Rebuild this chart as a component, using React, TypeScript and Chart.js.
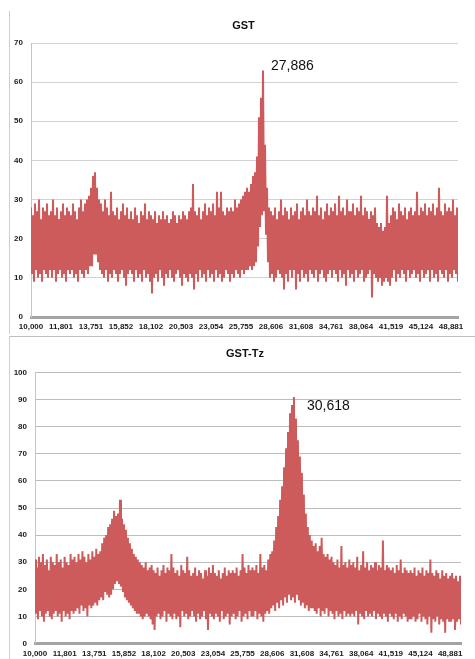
import React, { useEffect, useRef } from 'react';
import { Chart, registerables } from 'chart.js';

Chart.register(...registerables);

// ---------- data ----------
const xTickLabels = [
  '10,000', '11,801', '13,751', '15,852', '18,102', '20,503', '23,054', '25,755',
  '28,606', '31,608', '34,761', '38,064', '41,519', '45,124', '48,881',
];
const pointsPerTickLabel = 30;

const gstTitle = 'GST';
const gstPeakLabel = '27,886';
// upper / lower envelope of the noisy trace, read every ~2 px across the plot
const gstUpper = [
  28, 26, 29, 27, 30, 25, 28, 27, 29, 26,
  27, 30, 26, 28, 25, 27, 29, 26, 28, 27,
  26, 29, 27, 25, 28, 30, 27, 29, 30, 31,
  33, 36, 37, 33, 30, 29, 27, 30, 28, 26,
  32, 27, 26, 28, 25, 27, 29, 26, 28, 25,
  27, 25, 28, 26, 24, 27, 26, 29, 25, 27,
  26, 25, 27, 24, 26, 25, 27, 25, 26, 24,
  25, 27, 26, 24, 26, 25, 27, 26, 25, 27,
  28, 34, 27, 26, 28, 25, 27, 29, 26, 28,
  27, 29, 26, 32, 28, 32, 27, 26, 28, 27,
  28, 27, 30, 28, 29, 30, 31, 32, 33, 32,
  34, 36, 37, 41, 51, 56, 63, 44, 33, 28,
  27, 26, 28, 25, 27, 30, 26, 28, 27, 25,
  28, 26, 27, 29, 25, 27, 28, 26, 30, 27,
  26, 28, 27, 31, 26, 28, 25, 27, 29, 26,
  28, 27, 29, 26, 31, 27, 28, 26, 30, 27,
  27, 29, 26, 28, 27, 31, 26, 28, 27, 25,
  27, 26, 28, 24, 23, 24, 22, 23, 31, 24,
  26, 28, 27, 25, 29, 27, 26, 28, 25, 27,
  28, 26, 27, 32, 26, 28, 27, 29, 26, 28,
  27, 29, 26, 28, 33, 27, 26, 29, 27, 28,
  27, 30, 26, 28,
];
const gstLower = [
  11, 9, 12, 10, 11, 9, 12, 11, 10, 12,
  10, 12, 9, 11, 12, 10, 11, 9, 12, 11,
  12, 10, 11, 9, 12, 11, 10, 12, 11, 13,
  13, 16, 16, 14, 12, 11, 10, 12, 9, 11,
  10, 12, 11, 9, 11, 12, 10, 8, 11, 12,
  11, 9, 12, 10, 11, 9, 12, 10, 11, 9,
  6, 10, 11, 9, 12, 10, 8, 11, 10, 12,
  10, 9, 11, 12, 10, 8, 11, 10, 9, 11,
  10, 7, 11, 9, 12, 10, 11, 9, 12, 10,
  11, 9, 12, 10, 11, 9, 10, 12, 11, 9,
  11, 10, 12, 11, 10, 12, 11, 12, 12, 13,
  12, 13, 14, 18, 23, 26, 27, 21, 14, 10,
  11, 9, 10, 12, 11, 10, 7, 11, 9, 12,
  10, 12, 7, 11, 9, 12, 10, 11, 9, 12,
  11, 10, 12, 9, 11, 12, 10, 9, 11, 12,
  10, 12, 11, 9, 12, 10, 11, 8, 12, 10,
  11, 9, 12, 10, 11, 12, 9, 10, 11, 12,
  5, 11, 10, 9, 10, 8, 9, 10, 9, 8,
  10, 12, 9, 11, 10, 12, 11, 9, 12, 10,
  11, 12, 10, 11, 9, 12, 10, 11, 12, 9,
  12, 10, 11, 9, 12, 11, 10, 12, 9, 11,
  10, 12, 11, 9,
];

const tzTitle = 'GST-Tz';
const tzPeakLabel = '30,618';
const tzUpper = [
  31, 28, 32, 30, 33, 29, 31, 27, 32, 30,
  29, 33, 30, 31, 28, 32, 30, 29, 33, 31,
  32, 30, 33, 31, 34, 32, 30, 33, 31, 34,
  32, 35, 33, 34, 37, 39, 40, 43, 44, 46,
  49, 47, 48, 53, 46, 44, 42, 39, 37, 35,
  33, 32, 31, 30, 29, 28, 30, 27, 28, 29,
  27, 26, 28, 25, 27, 29, 26, 28, 27, 33,
  28, 26, 27, 25, 29, 27, 26, 32, 27, 25,
  26, 28, 25, 27, 26, 24, 27, 25, 28, 26,
  29, 26, 25, 27, 24, 26, 28, 25, 27, 26,
  27, 26, 28, 25, 27, 33, 28, 26, 29, 27,
  28, 27, 29, 26, 33, 28, 29, 27, 31, 33,
  34, 38, 43, 47, 53, 58, 65, 72, 78, 85,
  88, 91, 83, 75, 69, 63, 55, 48, 43, 40,
  38, 36, 37, 34, 36, 39, 33, 32, 33, 31,
  32, 30, 29, 31, 28, 36, 29, 30, 28, 31,
  29, 30, 28, 32, 27, 29, 34, 28, 30, 27,
  29, 28, 30, 27, 29, 28, 38, 27, 29, 28,
  27, 28, 26, 29, 27, 31, 26, 28, 27, 26,
  27, 26, 28, 25, 27, 26, 28, 25, 27, 26,
  31, 26, 25, 27, 26, 24, 27, 25, 26, 24,
  25, 26, 24, 25, 23, 25,
];
const tzLower = [
  11, 9, 12, 10, 8, 11, 12, 10, 9, 11,
  12, 10, 11, 8, 12, 10, 11, 9, 12, 11,
  12, 13, 11, 14, 12, 13, 10, 14, 13, 14,
  15, 14, 16, 17, 16, 19, 18, 17, 18, 20,
  22, 23, 22, 21, 19, 17, 16, 15, 14, 13,
  12, 11, 11, 10, 9, 10, 11, 10, 9, 7,
  5, 10, 11, 9, 10, 12, 8, 11, 10, 9,
  11, 9, 10, 6, 12, 10, 11, 9, 10, 12,
  10, 8, 11, 9, 10, 12, 9, 5, 11, 10,
  9, 11, 10, 8, 12, 9, 10, 11, 7, 10,
  11, 9, 10, 12, 8, 10, 11, 9, 12, 10,
  10, 12, 9, 11, 10, 8, 11, 12, 11, 13,
  14, 12, 15, 13, 16, 14, 17, 15, 18, 16,
  17, 15, 18, 16, 14, 15, 13, 14, 12, 13,
  13, 12, 11, 13, 10, 12, 11, 13, 10, 12,
  11, 9, 12, 10, 11, 9, 12, 10, 11, 10,
  11, 10, 12, 7, 11, 10, 9, 12, 10, 11,
  10, 12, 9, 11, 10, 9, 11, 10, 8, 11,
  10, 9, 11, 8, 10, 9, 11, 10, 8, 9,
  9, 10, 8, 9, 11, 8, 10, 9, 7, 10,
  4, 9, 8, 10, 7, 9, 8, 4, 9, 8,
  8, 9, 5, 8, 9, 7,
];

// ---------- helpers ----------
function buildTrace(upper: number[], lower: number[]) {
  const pts: { x: number; y: number }[] = [];
  for (let i = 0; i < upper.length; i++) {
    pts.push({ x: pts.length, y: upper[i] });
    pts.push({ x: pts.length, y: lower[i] });
  }
  return pts;
}

const FONT = '"Liberation Sans", Arial, sans-serif';
const RED = '#CD5B5B';

const panelTextPlugin = {
  id: 'panelText',
  afterDatasetsDraw(chart: any, _args: any, opts: any) {
    const { ctx, chartArea } = chart;
    ctx.save();
    ctx.fillStyle = '#111';
    ctx.textBaseline = 'middle';
    ctx.textAlign = 'center';
    ctx.font = `bold 11px ${FONT}`;
    ctx.fillText(opts.title, (chartArea.left + chartArea.right) / 2 + opts.titleDx, chartArea.top - opts.titleDy);
    const data = chart.data.datasets[0].data as { x: number; y: number }[];
    let best = 0;
    for (let i = 1; i < data.length; i++) if (data[i].y > data[best].y) best = i;
    const px = chart.scales.x.getPixelForValue(data[best].x);
    const py = chart.scales.y.getPixelForValue(data[best].y);
    ctx.textAlign = 'left';
    ctx.font = `14px ${FONT}`;
    ctx.fillText(opts.peakLabel, px + opts.dx, py + opts.dy);
    ctx.restore();
  },
};

type PanelProps = {
  top: number;
  height: number;
  title: string;
  peakLabel: string;
  upper: number[];
  lower: number[];
  yMax: number;
  padTop: number;
  padRight: number;
  yWidth: number;
  xHeight: number;
  gridColor: string;
  titleDy: number;
  titleDx: number;
  dx: number;
  dy: number;
};

function Panel(p: PanelProps) {
  const ref = useRef<HTMLCanvasElement | null>(null);
  useEffect(() => {
    if (!ref.current) return;
    const data = buildTrace(p.upper, p.lower);
    const chart = new Chart(ref.current, {
      type: 'line',
      data: {
        datasets: [
          {
            data,
            borderColor: RED,
            borderWidth: 2,
            borderJoinStyle: 'miter',
            pointRadius: 0,
            tension: 0,
            fill: false,
          },
        ],
      },
      plugins: [panelTextPlugin as any],
      options: {
        animation: false,
        responsive: false,
        parsing: false,
        events: [],
        layout: { padding: { top: p.padTop, right: p.padRight, left: 0, bottom: 0 } },
        plugins: {
          legend: { display: false },
          tooltip: { enabled: false },
          panelText: {
            title: p.title,
            peakLabel: p.peakLabel,
            titleDy: p.titleDy,
            titleDx: p.titleDx,
            dx: p.dx,
            dy: p.dy,
          },
        } as any,
        scales: {
          x: {
            type: 'linear',
            min: 0,
            max: data.length - 1,
            afterBuildTicks: (s: any) => {
              s.ticks = xTickLabels.map((_, i) => ({ value: i * pointsPerTickLabel }));
            },
            afterFit: (s: any) => {
              s.height = p.xHeight;
            },
            ticks: {
              autoSkip: false,
              maxRotation: 0,
              minRotation: 0,
              padding: 5,
              color: '#1a1a1a',
              font: { family: FONT, size: 8, weight: 'bold' },
              callback: (v: any) => xTickLabels[Math.round(Number(v) / pointsPerTickLabel)] ?? '',
            },
            grid: { display: false, drawTicks: false },
            border: { display: true, color: '#a3a3a3', width: 3 },
          },
          y: {
            type: 'linear',
            min: 0,
            max: p.yMax,
            afterFit: (s: any) => {
              s.width = p.yWidth;
            },
            ticks: {
              stepSize: 10,
              padding: 8,
              color: '#1a1a1a',
              font: { family: FONT, size: 8, weight: 'bold' },
            },
            grid: { color: p.gridColor, lineWidth: 1, drawTicks: false },
            border: { display: true, color: '#c4c4c4', width: 1 },
          },
        },
      } as any,
    });
    return () => chart.destroy();
  }, []);
  return (
    <div style={{ position: 'absolute', left: 0, top: p.top, width: 475, height: p.height }}>
      <canvas ref={ref} width={475} height={p.height} style={{ width: 475, height: p.height, display: 'block' }} />
    </div>
  );
}

export default function App() {
  return (
    <div style={{ position: 'absolute', left: 0, top: 0, width: 475, height: 659, overflow: 'hidden', background: '#fff' }}>
      <div style={{ position: 'absolute', left: 9, top: 11, width: 1, height: 323, background: '#cfcfcf' }} />
      <div style={{ position: 'absolute', left: 9, top: 336, width: 466, height: 1, background: '#bdbdbd' }} />
      <div style={{ position: 'absolute', left: 9, top: 336, width: 1, height: 323, background: '#cfcfcf' }} />
      <Panel
        top={0}
        height={333}
        title={gstTitle}
        peakLabel={gstPeakLabel}
        upper={gstUpper}
        lower={gstLower}
        yMax={70}
        padTop={43}
        padRight={17}
        yWidth={31}
        xHeight={16}
        gridColor="#d2d2d2"
        titleDy={17}
        titleDx={-1}
        dx={8}
        dy={-4}
      />
      <Panel
        top={333}
        height={326}
        title={tzTitle}
        peakLabel={tzPeakLabel}
        upper={tzUpper}
        lower={tzLower}
        yMax={100}
        padTop={39.5}
        padRight={14}
        yWidth={35}
        xHeight={15.5}
        gridColor="#bcbcbc"
        titleDy={18.5}
        titleDx={-3}
        dx={13}
        dy={9}
      />
    </div>
  );
}
